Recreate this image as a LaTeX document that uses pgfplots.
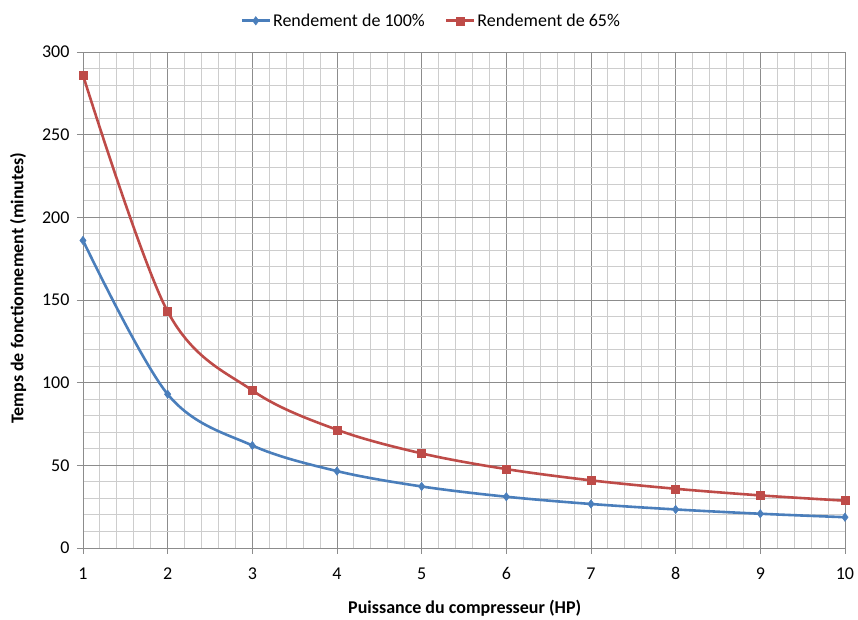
\documentclass[border=0pt]{standalone}
\usepackage{fontspec}
\setmainfont{Carlito}
\usepackage{pgfplots}
\pgfplotsset{compat=1.18}
\definecolor{serieA}{HTML}{4A7EBB}
\definecolor{serieB}{HTML}{BE4B48}
\definecolor{gridmaj}{HTML}{8C8C8C}
\definecolor{gridmin}{HTML}{CDCDCD}
\begin{document}
\begin{tikzpicture}
\begin{axis}[
  scale only axis, width=762bp, height=496bp,
  xmin=1, xmax=10, ymin=0, ymax=300,
  xtick={1,...,10}, ytick={0,50,...,300},
  minor x tick num=4, minor y tick num=4,
  grid=both,
  major grid style={draw=gridmaj, line width=0.8bp},
  minor grid style={draw=gridmin, line width=0.9bp},
  axis lines=left,
  axis line style={-, draw=gridmaj, line width=0.8bp},
  tick align=outside,
  major tick length=6bp, minor tick length=0pt,
  tick style={draw=gridmaj, line width=0.8bp},
  /pgf/number format/assume math mode=true,
  ticklabel style={font=\fontsize{18bp}{21bp}\selectfont, text=black},
  xticklabel style={yshift=-10bp},
  yticklabel style={xshift=-4bp},
  xlabel={Puissance du compresseur (HP)},
  ylabel={Temps de fonctionnement (minutes)},
  every axis x label/.style={at={(axis description cs:0.501,-0.121)}, anchor=center,
    font=\fontsize{18bp}{21bp}\selectfont\bfseries},
  every axis y label/.style={at={(axis description cs:-0.085,0.524)}, rotate=90, anchor=center,
    font=\fontsize{18bp}{21bp}\selectfont\bfseries},
  legend columns=2,
  legend style={at={(axis description cs:0.457,1)}, anchor=south, yshift=20bp,
    draw=none, fill=none, font=\fontsize{18bp}{21bp}\selectfont,
    /tikz/every even column/.append style={column sep=18bp}},
  legend image code/.code={
    \draw[#1, mark=none] (0bp,0bp) -- (28bp,0bp);
    \path[#1] plot coordinates {(14bp,0bp)};},
]
\addplot[serieA, line width=2.6bp, smooth, tension=0.55,
  mark=diamond*, mark size=4.2bp, mark options={solid, fill=serieA, draw=serieA, line width=0.5bp}]
  coordinates {(1,186) (2,93) (3,62) (4,46.5) (5,37.2) (6,31) (7,26.6) (8,23.3) (9,20.7) (10,18.6)};
\addlegendentry{Rendement de 100\%}
\addplot[serieB, line width=2.6bp, smooth, tension=0.55,
  mark=square*, mark size=4bp, mark options={solid, fill=serieB, draw=serieB, line width=0.5bp}]
  coordinates {(1,286) (2,143) (3,95.3) (4,71.5) (5,57.2) (6,47.7) (7,40.9) (8,35.8) (9,31.8) (10,28.6)};
\addlegendentry{Rendement de 65\%}
\coordinate (bbA) at (rel axis cs:-0.1089,-0.1371);
\coordinate (bbB) at (rel axis cs:1.0171,1.1048);
\end{axis}
\useasboundingbox (bbA) rectangle (bbB);
\end{tikzpicture}
\end{document}
